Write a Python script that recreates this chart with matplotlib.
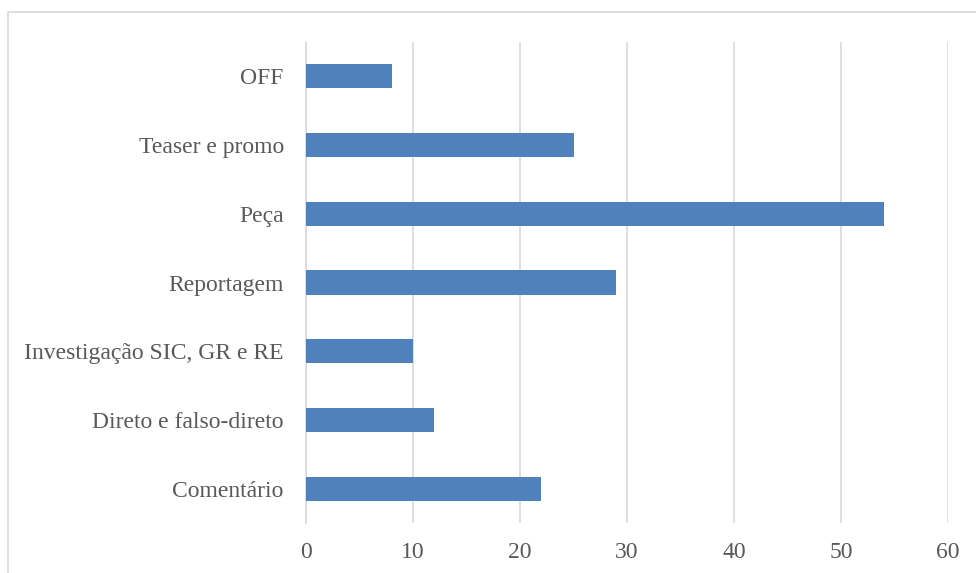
import matplotlib.pyplot as plt
from matplotlib.patches import Rectangle

categories = ["Comentário", "Direto e falso-direto", "Investigação SIC, GR e RE",
              "Reportagem", "Peça", "Teaser e promo", "OFF"]
values = [22, 12, 10, 29, 54, 25, 8]
xticks = [0, 10, 20, 30, 40, 50, 60]

plt.rcParams['font.family'] = ['Liberation Serif', 'DejaVu Serif']

fig = plt.figure(figsize=(9.76, 5.73), dpi=100)
ax = fig.add_axes([306/976, 1 - 523/573, (948 - 306)/976, (523 - 42)/573])

# outer chart border
fig.patches.append(Rectangle((8/976, -0.1), 1.2, 1 - 12/573 + 0.1,
                             transform=fig.transFigure, fill=False,
                             edgecolor="#d9d9d9", linewidth=1.2))

ax.barh(range(len(categories)), values, height=0.35, color="#4f81bd", zorder=3)
ax.set_yticks(range(len(categories)))
ax.set_yticklabels(categories)
ax.set_xticks(xticks)
ax.set_xlim(0, 60)
ax.set_ylim(-0.5, len(categories) - 0.5)
ax.grid(axis="x", color="#d9d9d9", linewidth=1.2, zorder=0)
for s in ["top", "right", "bottom"]:
    ax.spines[s].set_visible(False)
ax.spines["left"].set_color("#d9d9d9")
ax.spines["left"].set_linewidth(1.2)
ax.tick_params(axis="both", length=0, colors="#595959", labelsize=17)
ax.tick_params(axis="y", pad=16)
ax.tick_params(axis="x", pad=14)

fig.savefig("out.png", dpi=100)
